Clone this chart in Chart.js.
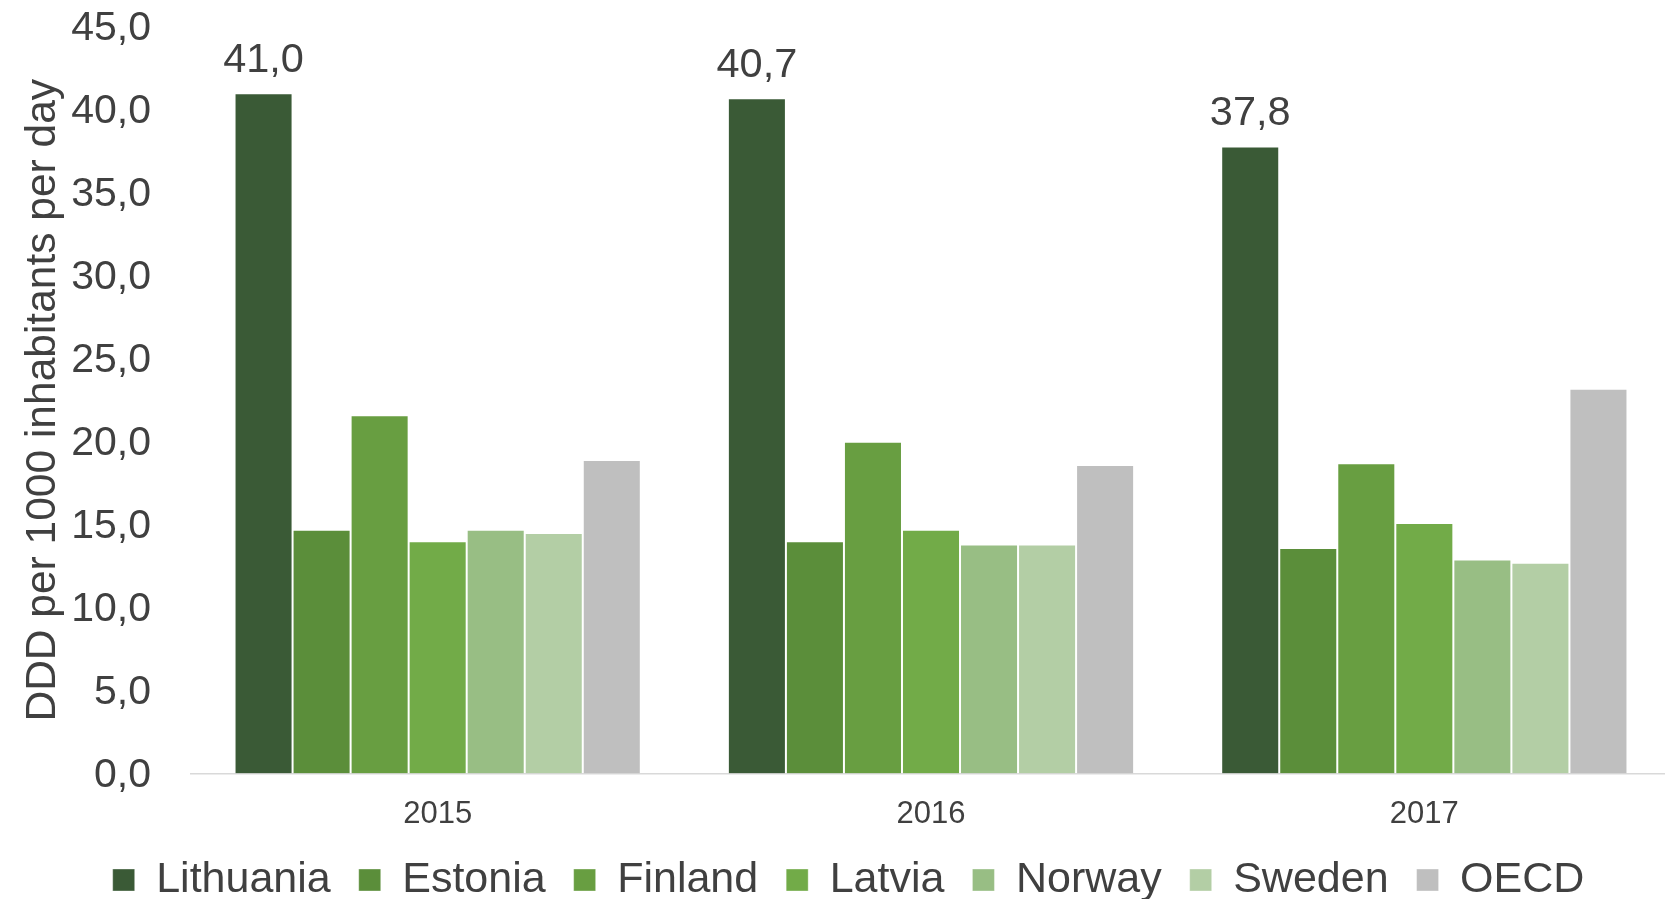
<!DOCTYPE html>
<html>
<head>
<meta charset="utf-8">
<script src="https://cdn.jsdelivr.net/npm/chart.js@4.4.1/dist/chart.umd.min.js"></script>
<style>
    body { margin: 0; background: #fff; overflow: hidden; }
    #wrap { width: 1671px; height: 899px; position: relative; }
</style>
</head>
<body>
<div id="wrap"><canvas id="chart"></canvas></div>
<script>
var years = ["2015", "2016", "2017"];
var countries = ["Lithuania", "Estonia", "Finland", "Latvia", "Norway", "Sweden", "OECD"];
var lithuania = [41.0, 40.7, 37.8];
var estonia = [14.7, 14.0, 13.6];
var finland = [21.6, 20.0, 18.7];
var latvia = [14.0, 14.7, 15.1];
var norway = [14.7, 13.8, 12.9];
var sweden = [14.5, 13.8, 12.7];
var oecd = [18.9, 18.6, 23.2];
var yTicks = [0, 5, 10, 15, 20, 25, 30, 35, 40, 45];

var colors = ["#3A5A36", "#5B8E3A", "#689E41", "#72AB48", "#98BE84", "#B3CEA5", "#BFBFBF"];
var values = [lithuania, estonia, finland, latvia, norway, sweden, oecd];

var textColor = "#404040";
var fontFamily = "'Liberation Sans', Arial, sans-serif";

function fmt(v) {
    return v.toFixed(1).replace(".", ",");
}

var datasets = [];
countries.forEach(function(name, idx) {
    datasets.push({
        label: name,
        data: values[idx],
        backgroundColor: colors[idx],
        borderColor: "rgba(255,255,255,0.35)",
        borderWidth: 1,
        categoryPercentage: 0.8235,
        barPercentage: 1.0
    });
});

// value labels on the first series only
var valueLabels = {
    id: "valueLabels",
    afterDatasetsDraw: function(chart) {
        var ctx = chart.ctx;
        var meta = chart.getDatasetMeta(0);
        ctx.save();
        ctx.font = "41.5px " + fontFamily;
        ctx.fillStyle = textColor;
        ctx.textAlign = "center";
        ctx.textBaseline = "alphabetic";
        meta.data.forEach(function(bar, i) {
            ctx.fillText(fmt(lithuania[i]), bar.x, bar.y - 21);
        });
        ctx.restore();
    }
};

var ctx = document.getElementById("chart").getContext("2d");
var myChart = new Chart(ctx, {
    type: "bar",
    data: {
        labels: years,
        datasets: datasets
    },
    options: {
        responsive: true,
        maintainAspectRatio: false,
        animation: false,
        devicePixelRatio: 1,
        layout: { padding: { top: 27, right: 0, left: 26, bottom: -12.5 } },
        plugins: {
            tooltip: { enabled: false },
            legend: {
                position: "bottom",
                labels: {
                    boxWidth: 22,
                    boxHeight: 22,
                    padding: 28,
                    color: textColor,
                    font: { size: 43, family: fontFamily }
                }
            }
        },
        scales: {
            x: {
                grid: { display: false, drawTicks: false },
                border: { display: true, color: "#D9D9D9", width: 1.5 },
                ticks: {
                    color: textColor,
                    padding: 22,
                    font: { size: 31, family: fontFamily }
                },
                afterFit: function(scale) { scale.height = 57; }
            },
            y: {
                min: 0,
                max: 45,
                afterBuildTicks: function(scale) {
                    scale.ticks = yTicks.map(function(v) { return { value: v }; });
                },
                grid: { display: false, drawTicks: false },
                border: { display: false },
                ticks: {
                    color: textColor,
                    padding: 40,
                    labelOffset: 2,
                    font: { size: 41, family: fontFamily },
                    callback: function(v) { return fmt(v); }
                },
                title: {
                    display: true,
                    text: "DDD per 1000 inhabitants per day",
                    color: textColor,
                    padding: { top: -8, bottom: 0 },
                    font: { size: 42.5, family: fontFamily }
                },
                afterFit: function(scale) {
                    scale.width = 165;
                    scale.paddingTop = 0;
                    scale.paddingBottom = 0;
                }
            }
        }
    },
    plugins: [valueLabels]
});
</script>
</body>
</html>
